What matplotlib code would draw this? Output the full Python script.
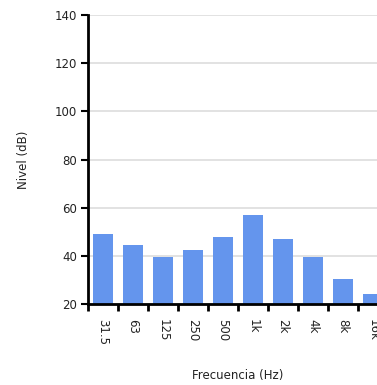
import numpy as np
import matplotlib
matplotlib.use("Agg")
import matplotlib.pyplot as plt
from matplotlib.ticker import FixedLocator

# Octave band levels
bands = ["31.5", "63", "125", "250", "500", "1k", "2k", "4k", "8k", "16k"]
levels = [49, 44.5, 39.6, 42.3, 48, 57, 47, 39.6, 30.3, 24]
y_ticks = [20, 40, 60, 80, 100, 120, 140]

BAR_COLOR = "#6495ED"

fig = plt.figure(figsize=(3.77, 3.85), dpi=100)
# axes runs past the right edge, as in the cropped original
ax = fig.add_axes([88 / 377, 1 - 304 / 385, 300 / 377, 289 / 385])

x = np.arange(len(bands))
ax.bar(x, levels, width=0.67, color=BAR_COLOR, bottom=0, zorder=2)

ax.set_xlim(-0.5, len(bands) - 0.5)
ax.set_ylim(20, 140)
ax.set_yticks(y_ticks)
ax.set_yticklabels([str(v) for v in y_ticks], fontsize=8.5, color="#222222")
ax.grid(True, axis="y", color="#dddddd", linewidth=1.2, zorder=0)

ax.set_xticks(x)
ax.set_xticklabels(bands, rotation=-90, fontsize=8.5, color="#222222", va="top")
ax.tick_params(axis="x", which="major", length=0, pad=11)
ax.xaxis.set_minor_locator(FixedLocator(np.arange(-0.5, len(bands), 1.0)))
ax.tick_params(axis="x", which="minor", length=5, width=2, color="black")
ax.tick_params(axis="y", length=5, width=1.5, color="black", pad=3)

for side in ["top", "right"]:
    ax.spines[side].set_visible(False)
for side in ["left", "bottom"]:
    ax.spines[side].set_linewidth(2)
    ax.spines[side].set_color("black")

ax.set_xlabel("Frecuencia (Hz)", fontsize=8.5, color="#222222", labelpad=17)
ax.set_ylabel("Nivel (dB)", fontsize=8.5, color="#222222", labelpad=18)

fig.savefig("out.png", dpi=100)
